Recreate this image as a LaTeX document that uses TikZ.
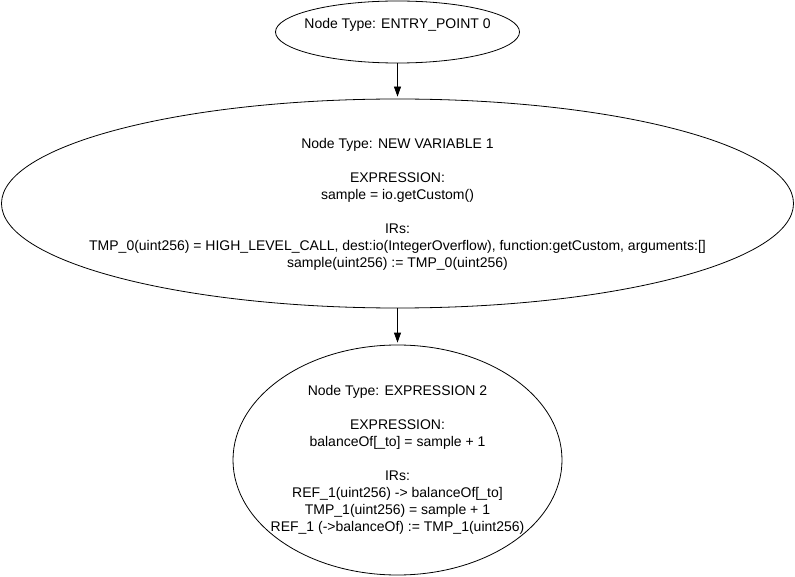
\documentclass[tikz,border=0pt]{standalone}
\usepackage{fontspec}
\setmainfont{Liberation Sans}
\usetikzlibrary{arrows.meta,shapes.geometric}
\begin{document}
\begin{tikzpicture}[x=1pt,y=-1pt,
  ell/.style={draw, ellipse, inner sep=0pt, line width=0.8pt},
  lbl/.style={align=center, font=\fontsize{14}{17}\selectfont, inner sep=0pt},
  edge/.style={-{Triangle[length=10pt,width=7pt]}, line width=0.8pt, shorten >=2pt}]
\useasboundingbox (0,0) rectangle (795,577);
\node[ell, minimum width=244pt, minimum height=62pt] (n0) at (397.5,32) {};
\node[ell, minimum width=792pt, minimum height=209pt] (n1) at (397.5,203.5) {};
\node[ell, minimum width=329pt, minimum height=230pt] (n2) at (397.5,460) {};
\node[lbl] (l0) at (397.5,25) {Node Type: ENTRY\_POINT 0};
\node[lbl] (l1) at (397.5,204.5) {Node Type: NEW VARIABLE 1\\[17pt]
EXPRESSION:\\
sample = io.getCustom()\\[17pt]
IRs:\\
TMP\_0(uint256) = HIGH\_LEVEL\_CALL, dest:io(IntegerOverflow), function:getCustom, arguments:[]\\
sample(uint256) := TMP\_0(uint256)};
\node[lbl] (l2) at (397.5,459.7) {Node Type: EXPRESSION 2\\[17pt]
EXPRESSION:\\
balanceOf[\_to] = sample + 1\\[17pt]
IRs:\\
REF\_1(uint256) -> balanceOf[\_to]\\
TMP\_1(uint256) = sample + 1\\
REF\_1 (->balanceOf) := TMP\_1(uint256)};
\draw[edge] (n0.south) -- (n1.north);
\draw[edge] (n1.south) -- (n2.north);
\end{tikzpicture}
\end{document}
